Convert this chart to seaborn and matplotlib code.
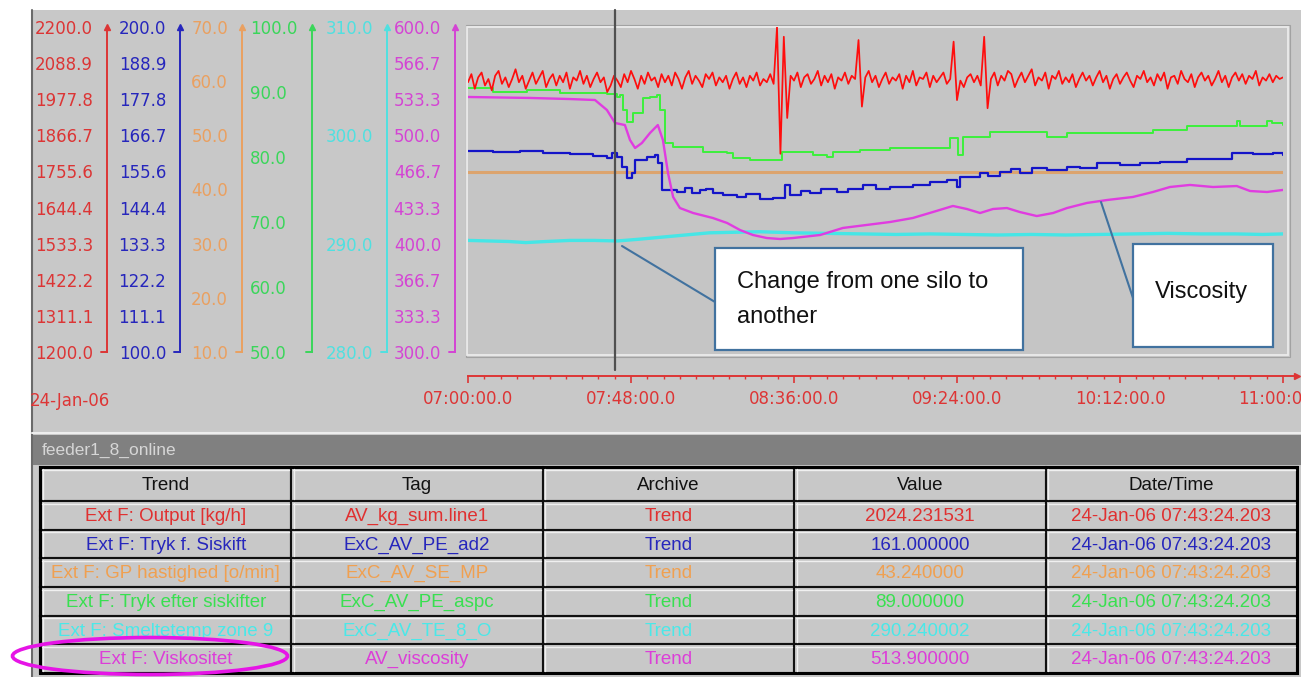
import numpy as np
import matplotlib
matplotlib.use("Agg")
import matplotlib.pyplot as plt
import seaborn as sns
from matplotlib.patches import Rectangle, Ellipse
from matplotlib.ticker import FormatStrFormatter, MultipleLocator

# trend values, time in minutes after 07:00:00 (24-Jan-06)
# Ext F: Output [kg/h], one sample per minute
output_kgh = [
    2030, 2055, 2010, 2045, 2060, 2020, 2040, 2005, 2050, 2065, 2025, 2045, 2015, 2040, 2070, 2030, 2050, 2010, 2035, 2060,
    2025, 2045, 2065, 2015, 2040, 2055, 2020, 2050, 2030, 2060, 2010, 2045, 2035, 2065, 2025, 2050, 2015, 2040, 2060, 2030,
    2045, 2000, 2020, 2050, 2035, 2015, 2055, 2030, 2065, 2040, 2010, 2050, 2025, 2060, 2035, 2045, 2015, 2055, 2030, 2050,
    2020, 2060, 2040, 2010, 2045, 2065, 2025, 2050, 2035, 2015, 2055, 2040, 2060, 2020, 2045, 2030, 2050, 2010, 2040, 2060,
    2025, 2045, 2015, 2050, 2035, 2060, 2020, 2040, 2030, 2055, 2025, 2200, 1810, 2170, 1920, 2050, 2035, 2060, 2015, 2045,
    2055, 2025, 2040, 2065, 2020, 2050, 2030, 2055, 2010, 2045, 2035, 2060, 2025, 2050, 2040, 2160, 1955, 2045, 2065, 2030,
    2050, 2015, 2040, 2060, 2025, 2045, 2035, 2055, 2010, 2050, 2030, 2065, 2020, 2045, 2040, 2060, 2015, 2050, 2030, 2045,
    2060, 2025, 2040, 2155, 1975, 2035, 2015, 2045, 2055, 2030, 2050, 2020, 2170, 1950, 2040, 2060, 2020, 2050, 2035, 2065,
    2055, 2015, 2040, 2060, 2030, 2050, 2070, 2020, 2045, 2035, 2060, 2010, 2050, 2040, 2065, 2025, 2045, 2030, 2055, 2015,
    2040, 2060, 2035, 2050, 2020, 2045, 2065, 2030, 2050, 2010, 2040, 2055, 2025, 2045, 2060, 2035, 2015, 2050, 2040, 2065,
    2030, 2045, 2020, 2055, 2035, 2060, 2010, 2045, 2050, 2025, 2065, 2040, 2030, 2055, 2015, 2045, 2060, 2035, 2050, 2020,
    2040, 2065, 2030, 2050, 2015, 2045, 2060, 2035, 2055, 2025, 2050, 2040, 2065, 2020, 2045, 2035, 2055, 2030, 2050, 2040,
    2045,
]
output_t = np.arange(len(output_kgh))

# Ext F: Tryk f. Siskift
tryk_t = [0, 7.4, 15.3, 22.1, 30.0, 36.8, 40.9, 42.4, 43.8, 45.3, 46.8, 48.3, 49.2, 52.7, 55.1, 55.9, 57.1,
          61.5, 64.0, 66.0, 68.3, 70.0, 72.1, 75.0, 79.2, 82.0, 86.0, 89.8, 93.3, 94.8, 98.0, 100.7, 104.0,
          108.7, 112.0, 116.3, 120.0, 124.3, 131.0, 136.0, 141.0, 144.0, 144.9, 150.8, 153.0, 156.7, 160.0,
          162.5, 166.0, 170.5, 176.4, 180.2, 185.2, 192.0, 197.9, 203.8, 211.7, 223.5, 225.0, 231.2,
          237.0, 240]
tryk_v = [161.8, 161.5, 161.8, 161.2, 160.9, 160.3, 159.7, 161.2, 160.0, 156.9, 153.5, 155.1, 159.1, 160.0,
          160.6, 158.2, 149.8, 149.2, 150.4, 149.0, 149.8, 150.3, 148.9, 148.3, 147.7, 148.5, 147.1, 147.4,
          151.4, 148.3, 149.6, 148.9, 150.0, 149.2, 150.3, 151.4, 150.2, 150.8, 151.4, 152.4, 152.9, 150.8,
          153.8, 155.1, 154.0, 155.4, 156.2, 155.1, 156.5, 156.0, 156.9, 156.6, 158.2, 157.5, 158.2, 158.5,
          159.4, 159.4, 161.2, 160.9, 161.2, 160.6]

# Ext F: GP hastighed [o/min]
gp_t = [0, 240]
gp_v = [43.24, 43.24]

# Ext F: Tryk efter siskifter
efter_t = [0, 7.4, 17.4, 27.1, 40.9, 43.8, 44.8, 45.6, 46.8, 48.6, 51.5, 53.6, 55.7, 56.5, 58.0, 60.4,
           68.3, 69.2, 76.3, 78.0, 83.0, 91.0, 92.5, 95.7, 101.6, 105.7, 107.5, 115.4, 124.3, 140.5, 141.9,
           144.3, 145.8, 152.8, 153.7, 167.6, 170.5, 176.4, 201.7, 211.7, 225.3, 226.4, 227.3, 234.1, 235.3,
           236.7, 240]
efter_v = [90.6, 90.0, 90.3, 89.8, 89.7, 89.2, 89.5, 87.2, 85.4, 86.8, 89.1, 89.2, 89.5, 87.2, 82.2, 81.5,
           81.5, 80.8, 80.6, 79.9, 79.5, 79.5, 80.8, 80.8, 80.3, 80.0, 80.8, 81.1, 81.4, 81.4, 82.9, 80.3,
           83.1, 83.1, 83.8, 83.8, 83.1, 83.7, 84.2, 84.8, 84.8, 85.5, 84.8, 84.8, 85.5, 85.2, 84.9]

# Ext F: Smeltetemp zone 9
smelt_t = [0, 6, 12, 17, 23, 30, 37, 44, 50, 57, 64, 71, 78, 86, 96, 106, 116, 126, 136, 146, 156,
           166, 176, 186, 196, 206, 216, 226, 234, 240]
smelt_v = [290.3, 290.25, 290.2, 290.1, 290.2, 290.3, 290.3, 290.25, 290.4, 290.6, 290.8, 291.0, 291.05,
           291.1, 291.0, 290.95, 290.9, 290.85, 290.9, 290.85, 290.8, 290.85, 290.8, 290.85, 290.9, 290.95,
           290.9, 290.9, 290.85, 290.9]

# Ext F: Viskositet
visk_t = [0, 18.3, 30.0, 37.4, 40.9, 43.3, 46.2, 47.7, 49.2, 51.2, 53.6, 55.9, 57.4, 58.9, 60.4, 62.4,
          66.3, 72.1, 76.3, 80.1, 83.9, 88.0, 91.9, 95.7, 103.7, 110.4, 124.3, 131.0, 136.9, 142.8, 146.9,
          150.8, 154.6, 158.7, 162.5, 167.5, 172.3, 176.4, 182.3, 188.2, 195.8, 201.7, 206.7, 212.6, 219.4,
          226.4, 230.3, 235.3, 240]
visk_v = [535.4, 534.5, 533.5, 532.6, 523.4, 511.4, 509.5, 495.7, 488.3, 492.9, 502.2, 509.5, 495.7,
          465.2, 443.1, 432.9, 428.3, 423.7, 419.1, 412.6, 408.0, 405.2, 404.3, 405.2, 408.0, 414.5, 420.0,
          423.7, 429.2, 434.8, 432.0, 428.3, 432.0, 432.9, 429.2, 425.5, 428.3, 432.9, 437.6, 440.3, 443.1,
          447.7, 452.3, 454.2, 452.3, 453.2, 448.6, 447.7, 449.6]

# y scales (low, high, divisions)
output_scale = (1200, 2200, 9)
tryk_scale = (100, 200, 9)
gp_scale = (10, 70, 6)
efter_scale = (50, 100, 5)
smelt_scale = (280, 310, 3)
visk_scale = (300, 600, 9)

x_ticks = [0, 48, 96, 144, 192, 240]
x_labels = ["07:00:00.0", "07:48:00.0", "08:36:00.0", "09:24:00.0", "10:12:00.0", "11:00:00.0"]
date_label = "24-Jan-06"
cursor = "07:43:24.203"

# table below the trend
table_cols = ["Trend", "Tag", "Archive", "Value", "Date/Time"]
trend_names = ["Ext F: Output [kg/h]", "Ext F: Tryk f. Siskift", "Ext F: GP hastighed [o/min]",
               "Ext F: Tryk efter siskifter", "Ext F: Smeltetemp zone 9", "Ext F: Viskositet"]
tags = ["AV_kg_sum.line1", "ExC_AV_PE_ad2", "ExC_AV_SE_MP", "ExC_AV_PE_aspc", "ExC_AV_TE_8_O", "AV_viscosity"]
archives = ["Trend"] * 6
values = ["2024.231531", "161.000000", "43.240000", "89.000000", "290.240002", "513.900000"]
stamps = ["24-Jan-06 07:43:24.203"] * 6


sns.set_theme(style="white")
plt.rcParams["font.family"] = ["DejaVu Sans"]

W, H = 1312, 677
fig = plt.figure(figsize=(W / 100, H / 100), dpi=100)

# window background, pixel coordinates
bg = fig.add_axes([0, 0, 1, 1], zorder=-1)
bg.set_xlim(0, W)
bg.set_ylim(H, 0)
bg.axis("off")
bg.add_patch(Rectangle((32, 10), 1269, 667, fc="#c8c8c8", ec="none"))
bg.plot([31.5, 31.5], [10, H], color="#6a6a6a", lw=1.5)
bg.add_patch(Rectangle((465.5, 24.5), 824, 332, fill=False, ec="#a2a2a2", lw=0.8))
bg.add_patch(Rectangle((467, 26.5), 821, 328.5, fc="#c5c5c5", ec="#ebebeb", lw=1.3))
bg.plot([32, 1301], [432.5, 432.5], color="#ededed", lw=1.5)
bg.add_patch(Rectangle((32, 435), 1269, 30, fc="#808080", ec="none"))
bg.text(42, 450, "feeder1_8_online", color="#d6d6d6", fontsize=12.5,
        family="Liberation Sans", va="center")
bg.text(30, 401, date_label, color="#dd3535", fontsize=12, va="center")

# table
row_colors = ["#e03030", "#2626bc", "#f0a050", "#38e050", "#4ae8e8", "#dc3ed8"]
col_edges = np.linspace(40, 1297, len(table_cols) + 1)
row_edges = np.concatenate([[467], np.linspace(501, 673, len(trend_names) + 1)])
rows = [table_cols] + [list(r) for r in zip(trend_names, tags, archives, values, stamps)]
for r, row in enumerate(rows):
    y0, y1 = row_edges[r], row_edges[r + 1]
    for c, txt in enumerate(row):
        x0, x1 = col_edges[c], col_edges[c + 1]
        bg.add_patch(Rectangle((x0, y0), x1 - x0, y1 - y0, fc="#c8c8c8", ec="#111111", lw=1.5))
        bg.plot([x0 + 2, x1 - 2], [y0 + 2.5, y0 + 2.5], color="#f0f0f0", lw=1)
        bg.plot([x0 + 2.5, x0 + 2.5], [y0 + 2, y1 - 2], color="#f0f0f0", lw=1)
        bg.text((x0 + x1) / 2, (y0 + y1) / 2 + 1, txt, ha="center", va="center",
                fontsize=13.5, family="Liberation Sans",
                color="#111111" if r == 0 else row_colors[r - 1])
bg.add_patch(Rectangle((40, 467), 1257, 206, fill=False, ec="#000000", lw=2.2, clip_on=False))

# trend axes, one per scale, stacked on the same area
rect = [468 / W, 1 - 352 / H, 815 / W, 325 / H]
host = fig.add_axes(rect)
axes = [host] + [fig.add_axes(rect, sharex=host) for _ in range(5)]

specs = [
    (output_t, output_kgh, output_scale, "#ff0d0d", "#dc3535", 107, 1.25, 7, "default"),
    (tryk_t, tryk_v, tryk_scale, "#1414c8", "#2626bc", 180, 1.6, 5, "steps-post"),
    (gp_t, gp_v, gp_scale, "#dca46e", "#eaa060", 242, 2.2, 3, "default"),
    (efter_t, efter_v, efter_scale, "#3cf03c", "#3ad65a", 312, 1.4, 4, "steps-post"),
    (smelt_t, smelt_v, smelt_scale, "#46e6e6", "#50e0e0", 387, 2.4, 2, "default"),
    (visk_t, visk_v, visk_scale, "#e03ce0", "#d444d4", 455, 1.7, 6, "default"),
]

for ax, (t, v, scale, col, lab_col, spine_x, lw, z, ds) in zip(axes, specs):
    sns.lineplot(x=t, y=v, ax=ax, color=col, linewidth=lw, estimator=None, drawstyle=ds)
    ax.set_zorder(z)
    ax.patch.set_visible(False)
    for s in ["top", "right", "bottom"]:
        ax.spines[s].set_visible(False)
    ax.spines["left"].set_position(("outward", (468 - spine_x) * 0.72))
    ax.spines["left"].set_color(lab_col)
    ax.spines["left"].set_linewidth(1.4)
    lo, hi, n = scale
    ax.set_yticks(np.linspace(lo, hi, n + 1))
    ax.yaxis.set_major_formatter(FormatStrFormatter("%.1f"))
    ax.tick_params(axis="y", length=0, pad=10, labelsize=12, labelcolor=lab_col)
    if ax is not host:
        ax.tick_params(axis="x", bottom=False, labelbottom=False)
    tr = ax.spines["left"].get_spine_transform()
    ax.plot([0], [hi], marker="^", ms=5, color=lab_col, transform=tr, clip_on=False)
    ax.plot([0, -0.007], [lo, lo], color=lab_col, lw=1.4, transform=tr, clip_on=False)
    ax.set_xlabel("")
    ax.set_ylabel("")
    ax.set_ylim(lo, hi)

# green labels are left aligned on the screen
green_ax = axes[3]
green_ax.tick_params(axis="y", pad=44.6)
for lbl in green_ax.get_yticklabels():
    lbl.set_horizontalalignment("left")

# time axis
red_axis = "#dd3535"
host.spines["bottom"].set_visible(True)
host.spines["bottom"].set_position(("outward", 17.3))
host.spines["bottom"].set_color(red_axis)
host.spines["bottom"].set_linewidth(1.4)
host.set_xticks(x_ticks)
host.set_xticklabels(x_labels)
host.xaxis.set_minor_locator(MultipleLocator(4.8))
host.tick_params(axis="x", which="major", bottom=True, direction="out", length=5, width=1.2,
                 color=red_axis, labelcolor=red_axis, labelsize=12, pad=5)
host.tick_params(axis="x", which="minor", bottom=True, direction="out", length=2.5, width=1,
                 color=red_axis)
trb = host.spines["bottom"].get_spine_transform()
host.plot([240, 244], [0, 0], color=red_axis, lw=1.4, transform=trb, clip_on=False)
host.plot([244], [0], marker=">", ms=5, color=red_axis, transform=trb, clip_on=False)

# cursor
h, m, s = cursor.split(":")
cursor_min = (int(h) - 7) * 60 + int(m) + float(s) / 60
host.axvline(cursor_min, ymin=-0.055, ymax=1.052, color="#505050", lw=1.6, clip_on=False)
host.set_xlim(0, 240)

# callouts and highlight on top
ov = fig.add_axes([0, 0, 1, 1], zorder=20)
ov.set_xlim(0, W)
ov.set_ylim(H, 0)
ov.axis("off")
callout = "#41729f"
ov.plot([622, 715], [246, 302], color=callout, lw=1.5)
ov.add_patch(Rectangle((715, 248), 308, 102, fc="white", ec=callout, lw=1.6))
ov.text(737, 282, "Change from one silo to", fontsize=17, family="Liberation Sans",
        va="center", color="#111111")
ov.text(737, 317, "another", fontsize=17, family="Liberation Sans", va="center", color="#111111")
ov.plot([1101, 1133], [202, 298], color=callout, lw=1.5)
ov.add_patch(Rectangle((1133, 244), 140, 103, fc="white", ec=callout, lw=1.6))
ov.text(1201, 292, "Viscosity", fontsize=17, family="Liberation Sans", ha="center",
        va="center", color="#111111")
ov.add_patch(Ellipse((150, 656), 275, 37, fill=False, ec="#e614e6", lw=2.6, clip_on=False))
ov.add_patch(Rectangle((1301, 0), 11, H, fc="white", ec="none"))

fig.savefig("out.png", dpi=100)
